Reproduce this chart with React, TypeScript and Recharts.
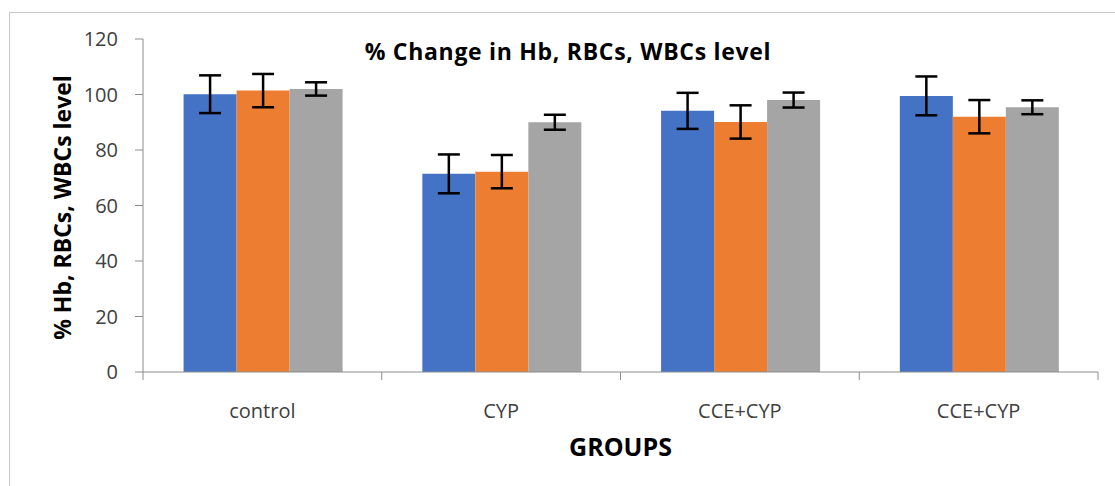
// Grouped bar chart: % change in Hb, RBCs, WBCs by group, with error bars.

import React from 'react'
import { BarChart, Bar, XAxis, YAxis, ErrorBar, Label } from 'recharts'

const GROUPS = ['control', 'CYP', 'CCE+CYP', 'CCE+CYP']
const HB = [100.1, 71.4, 94.1, 99.5]
const HB_ERR = [6.8, 7, 6.5, 7]
const RBC = [101.4, 72.2, 90.1, 92]
const RBC_ERR = [6, 6, 6, 6]
const WBC = [102, 90, 98, 95.4]
const WBC_ERR = [2.4, 2.7, 2.7, 2.5]
const Y_TICKS = [0, 20, 40, 60, 80, 100, 120]

const data = GROUPS.map((group, i) => ({
  group,
  hb: HB[i],
  hbErr: HB_ERR[i],
  rbc: RBC[i],
  rbcErr: RBC_ERR[i],
  wbc: WBC[i],
  wbcErr: WBC_ERR[i],
}))

const W = 1115
const H = 486
const MARGIN = { top: 39, right: 17, left: 0, bottom: 0 }
const Y_AXIS_W = 143
const X_AXIS_H = 114
const PLOT_W = W - MARGIN.left - MARGIN.right - Y_AXIS_W
const BAND = PLOT_W / GROUPS.length
const AXIS_COLOR = '#8c8c8c'
const FONT = '"Open Sans", sans-serif'

function GroupTick(props: any) {
  const { x, payload, index } = props
  const axisY = H - X_AXIS_H
  const left = x - BAND / 2
  const right = x + BAND / 2
  return (
    <g>
      <line x1={left} y1={axisY} x2={left} y2={axisY + 8} stroke={AXIS_COLOR} />
      {index === GROUPS.length - 1 && (
        <line x1={right} y1={axisY} x2={right} y2={axisY + 8} stroke={AXIS_COLOR} />
      )}
      <text x={x} y={axisY + 46} textAnchor="middle" fontSize={20} fill="#404040" fontFamily={FONT}>
        {payload.value}
      </text>
    </g>
  )
}

export default function App() {
  return (
    <div style={{ position: 'absolute', left: 0, top: 0, width: W, height: H, overflow: 'hidden', background: '#fff' }}>
      <div
        style={{
          position: 'absolute',
          left: 9,
          top: 12,
          width: W,
          height: H,
          border: '1px solid #c8c8c8',
        }}
      />
      <div
        style={{
          position: 'absolute',
          left: 568 - 300,
          width: 600,
          top: 40,
          lineHeight: '23px',
          textAlign: 'center',
          fontFamily: FONT,
          fontWeight: 700,
          fontSize: 23,
          letterSpacing: 0.7,
          color: '#000',
        }}
      >
        % Change in Hb, RBCs, WBCs level
      </div>
      <BarChart
        width={W}
        height={H}
        data={data}
        margin={MARGIN}
        barCategoryGap="17%"
        barGap={0}
        style={{ position: 'absolute', left: 0, top: 0 }}
      >
        <XAxis
          dataKey="group"
          height={X_AXIS_H}
          axisLine={{ stroke: AXIS_COLOR }}
          tickLine={false}
          tick={<GroupTick />}
          interval={0}
        >
          <Label
            value="GROUPS"
            position="center"
            dy={18}
            style={{ fontSize: 25, fontWeight: 700, fill: '#000', fontFamily: FONT }}
          />
        </XAxis>
        <YAxis
          width={Y_AXIS_W}
          domain={[0, 120]}
          ticks={Y_TICKS}
          interval={0}
          tickSize={8}
          tickMargin={17}
          axisLine={{ stroke: AXIS_COLOR }}
          tickLine={{ stroke: AXIS_COLOR }}
          tick={{ fontSize: 20, fill: '#404040', fontFamily: FONT }}
        >
          <Label
            value="% Hb, RBCs, WBCs level"
            angle={-90}
            position="center"
            dx={-9}
            dy={2}
            style={{ fontSize: 23, fontWeight: 700, fill: '#000', fontFamily: FONT, textAnchor: 'middle' }}
          />
        </YAxis>
        <Bar dataKey="hb" fill="#4472C4" isAnimationActive={false}>
          <ErrorBar dataKey="hbErr" width={11} stroke="#000" strokeWidth={2.5} isAnimationActive={false} />
        </Bar>
        <Bar dataKey="rbc" fill="#ED7D31" isAnimationActive={false}>
          <ErrorBar dataKey="rbcErr" width={11} stroke="#000" strokeWidth={2.5} isAnimationActive={false} />
        </Bar>
        <Bar dataKey="wbc" fill="#A5A5A5" isAnimationActive={false}>
          <ErrorBar dataKey="wbcErr" width={11} stroke="#000" strokeWidth={2.5} isAnimationActive={false} />
        </Bar>
      </BarChart>
    </div>
  )
}
